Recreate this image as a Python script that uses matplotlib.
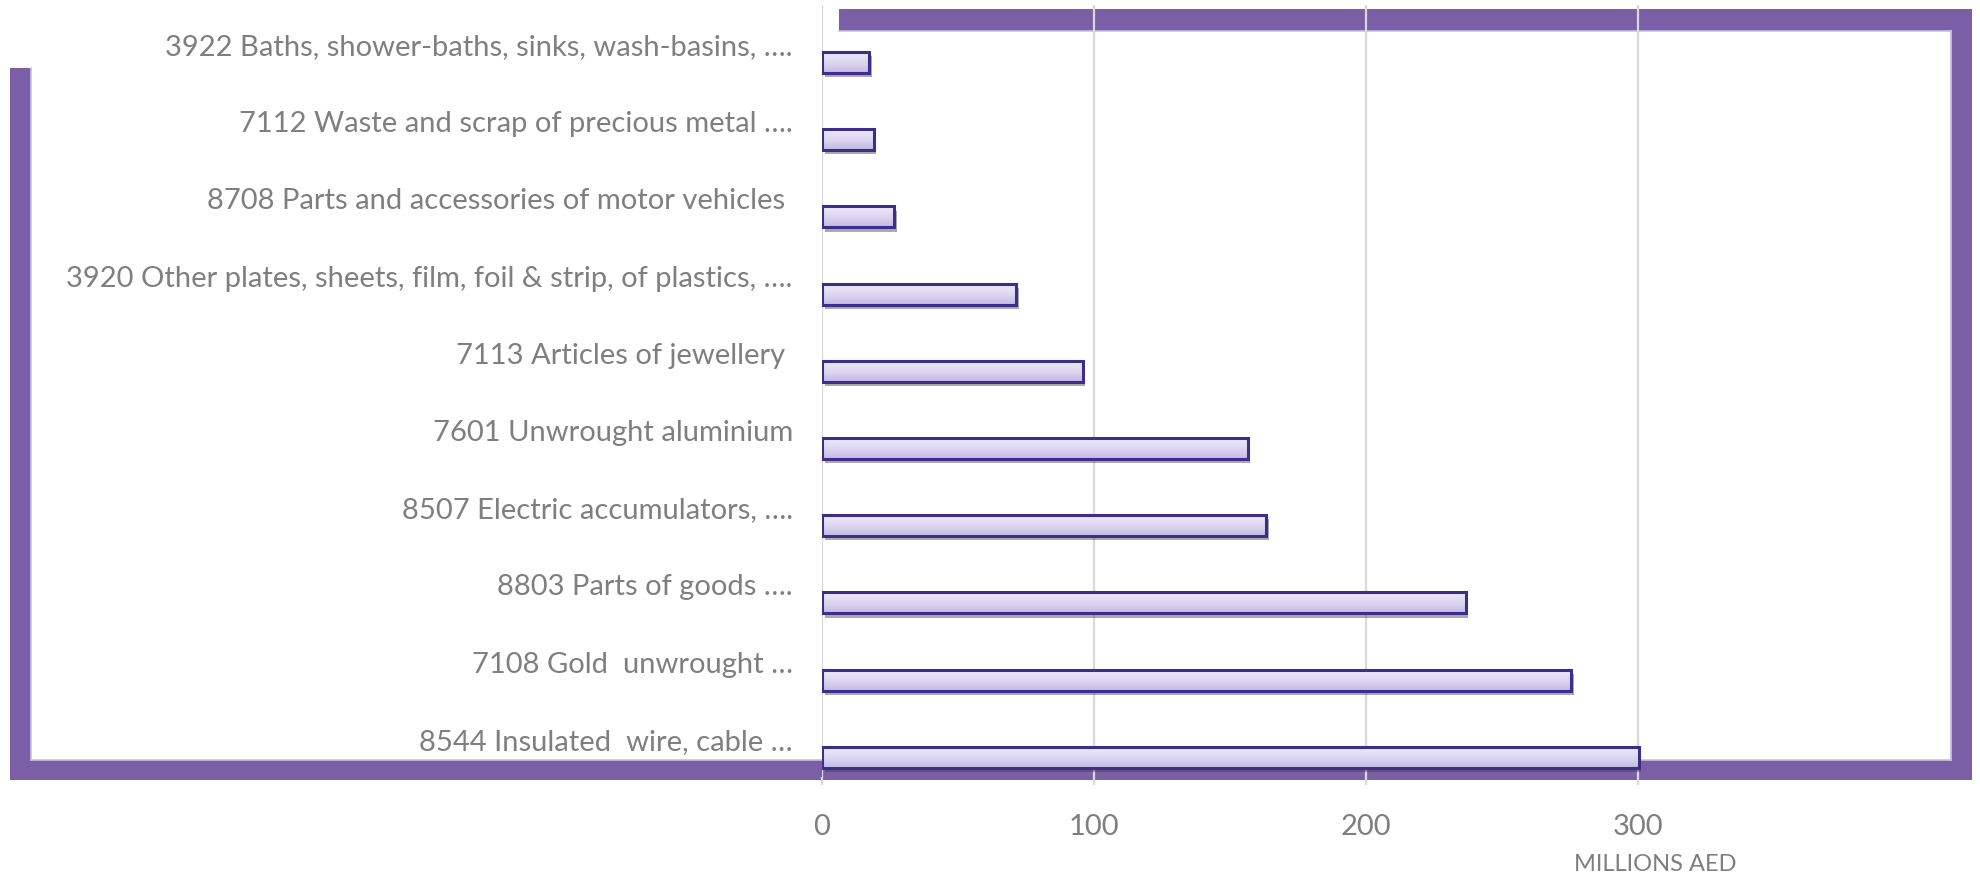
import matplotlib
matplotlib.use("Agg")
import matplotlib.pyplot as plt
import matplotlib.patheffects as pe
from matplotlib.colors import LinearSegmentedColormap
from matplotlib.patches import Rectangle
import numpy as np

# top to bottom as in the chart
categories = [
    "3922 Baths, shower-baths, sinks, wash-basins, ….",
    "7112 Waste and scrap of precious metal ….",
    "8708 Parts and accessories of motor vehicles ",
    "3920 Other plates, sheets, film, foil & strip, of plastics, ….",
    "7113 Articles of jewellery ",
    "7601 Unwrought aluminium",
    "8507 Electric accumulators, ….",
    "8803 Parts of goods ….",
    "7108 Gold  unwrought …",
    "8544 Insulated  wire, cable …",
]
values = [17.3, 19.0, 26.5, 71.5, 95.8, 156.5, 163.3, 236.6, 275.3, 300.2]
xticks = [0, 100, 200, 300]
xlabel = "MILLIONS AED"

purple = "#7a5fa6"
edge_light = "#cbbfe3"
bar_edge = "#3f2d8c"
text_grey = "#7f7f7f"

plt.rcParams['font.family'] = ['Lato', 'DejaVu Sans']

W, H = 1981, 879
fig = plt.figure(figsize=(W / 100, H / 100), dpi=100)
fig.patch.set_facecolor("white")

def px_rect(x0, y0, x1, y1):
    # pixel box (top-left origin) -> figure fraction rectangle
    return Rectangle((x0 / W, 1 - y1 / H), (x1 - x0) / W, (y1 - y0) / H,
                     transform=fig.transFigure, facecolor=purple,
                     edgecolor="none", zorder=-1)

# decorative frame behind the chart
for box in [(839, 10, 1972, 32), (1951, 10, 1972, 781),
            (10, 761, 1972, 781), (10, 69, 31, 781)]:
    fig.patches.append(px_rect(*box))
# thin light line along the inner edge of the frame
for seg in [((839, 1951), (32, 32)), ((1951, 1951), (32, 761)),
            ((31, 1951), (761, 761)), ((31, 31), (69, 761))]:
    fig.add_artist(plt.Line2D([v / W for v in seg[0]], [1 - v / H for v in seg[1]],
                              transform=fig.transFigure, color=edge_light,
                              linewidth=1.2, zorder=-0.5))

ax_left, ax_right, ax_top, ax_bot = 822, 1952, 6, 778
ax = fig.add_axes([ax_left / W, 1 - ax_bot / H, (ax_right - ax_left) / W, (ax_bot - ax_top) / H])
ax.set_facecolor("none")

xmax = 300 * (ax_right - ax_left) / (1638 - 822)

pos = np.arange(len(categories))
offset = 0.245
height = 0.27

shadow = [pe.SimplePatchShadow(offset=(2, -3), shadow_rgbFace="#444444", alpha=0.45), pe.Normal()]
base = ax.barh(pos + offset, values, height=height, color="#cfc8ea", edgecolor="none",
               zorder=2, path_effects=shadow)

cmap = LinearSegmentedColormap.from_list("bargrad", ["#eeebf9", "#dcd7f1", "#c3bae4"])
grad = np.linspace(0, 1, 64).reshape(-1, 1)
for p in base.patches:
    x0, y0 = p.get_x(), p.get_y()
    w, h = p.get_width(), p.get_height()
    im = ax.imshow(grad, extent=(x0, x0 + w, y0 + h, y0), origin="upper",
                   aspect="auto", cmap=cmap, zorder=2.5, interpolation="bilinear")
    im.set_clip_path(p)

ax.barh(pos + offset, values, height=height, facecolor="none", edgecolor=bar_edge,
        linewidth=2.2, zorder=3)

ax.set_xlim(0, xmax)
ax.set_ylim(len(categories) - 0.5, -0.5)

ax.set_xticks(xticks)
ax.set_yticks(pos)
ax.set_yticklabels(categories)
ax.grid(axis="x", color="#d9d9d9", linewidth=1.6, zorder=1)
ax.set_axisbelow(True)
for s in ax.spines.values():
    s.set_visible(False)

ax.tick_params(axis="y", length=0, pad=21, labelsize=21, labelcolor=text_grey)
ax.tick_params(axis="x", length=6, width=1.6, color="#d9d9d9", pad=20,
               labelsize=21, labelcolor=text_grey)

fig.text(1655 / W, 1 - 865 / H, xlabel, ha="center", va="center",
         fontsize=17, color=text_grey)

fig.savefig("out.png", dpi=100)
